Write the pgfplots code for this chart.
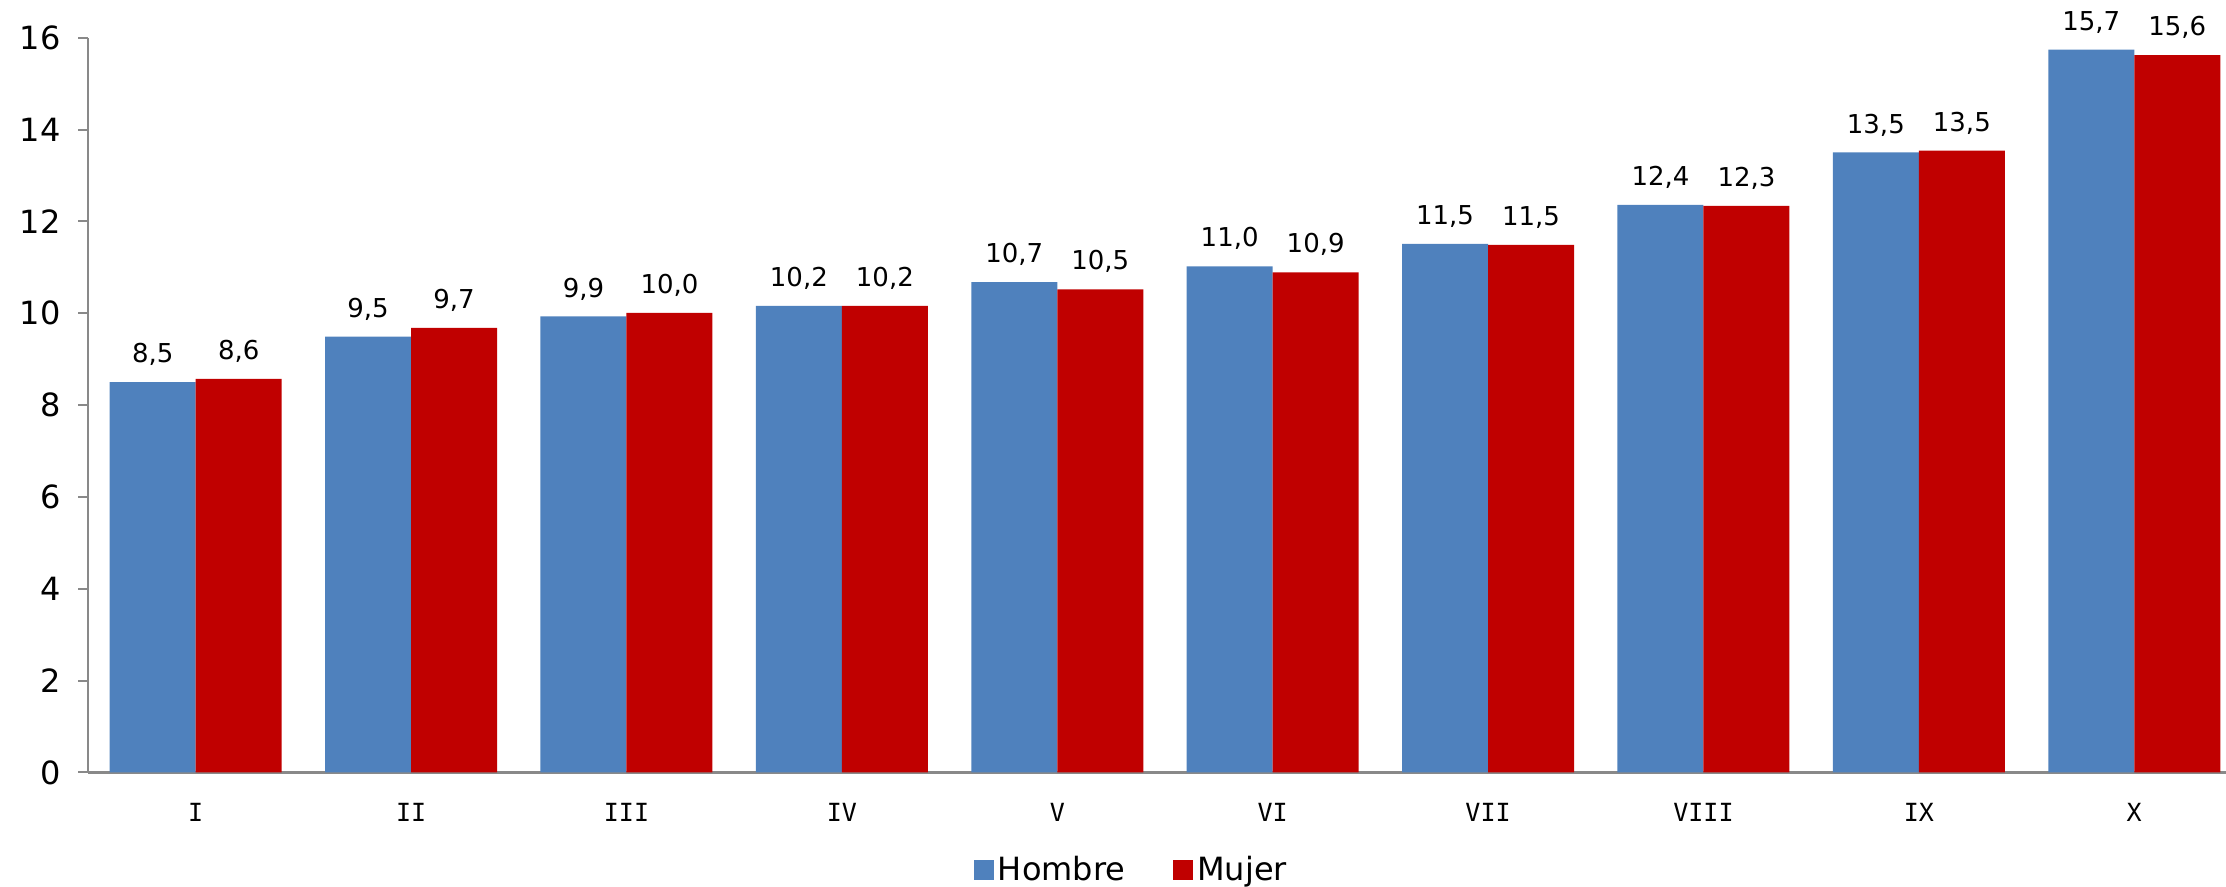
\documentclass[border=0pt]{standalone}
\usepackage{pgfplots}
\pgfplotsset{compat=1.18}
\usepackage{pgfplotstable}
\usepackage{fontspec}
\setmainfont{DejaVu Sans}
\newfontfamily\monofont{DejaVu Sans Mono}
\definecolor{hblue}{HTML}{4F81BD}
\definecolor{mred}{HTML}{C00000}
\definecolor{axgray}{HTML}{898989}
\pgfplotstableread{
x h hl m ml
0 8.50 8,5 8.57 8,6
1 9.49 9,5 9.68 9,7
2 9.93 9,9 10.01 10,0
3 10.16 10,2 10.16 10,2
4 10.68 10,7 10.52 10,5
5 11.02 11,0 10.89 10,9
6 11.51 11,5 11.49 11,5
7 12.36 12,4 12.34 12,3
8 13.50 13,5 13.54 13,5
9 15.74 15,7 15.62 15,6
}\datatable
\begin{document}
\begin{tikzpicture}
\begin{axis}[
  scale only axis,
  width=1069pt, height=367.4pt,
  at={(0,0)}, anchor=south west,
  xmin=-0.5, xmax=9.426,
  ymin=0, ymax=16,
  ytick={0,2,...,16},
  xtick={0,...,9},
  xticklabels={I,II,III,IV,V,VI,VII,VIII,IX,X},
  /pgf/number format/assume math mode=true,
  axis x line*=bottom,
  axis y line*=left,
  x axis line style={draw=axgray, line width=1.5pt, -},
  y axis line style={draw=axgray, line width=1pt, -},
  major x tick style={draw=none},
  major y tick style={draw=axgray, line width=1pt},
  tick align=outside,
  major tick length=5pt,
  yticklabel style={font=\fontsize{16}{19}\selectfont, anchor=east, inner sep=0pt, xshift=-8.5pt},
  xticklabel style={font=\monofont\fontsize{12.5}{15}\selectfont, anchor=north, inner sep=0pt, yshift=-10.25pt},
  clip=false,
  legend style={at={(0.4885,-0.1327)}, anchor=center, legend columns=2, draw=none,
    font=\fontsize{16}{19}\selectfont,
    /tikz/every even column/.append style={column sep=22pt}},
  legend image code/.code={\fill[#1] (0pt,-5pt) rectangle (10pt,5pt);},
  nodes near coords,
  point meta=explicit symbolic,
  nodes near coords style={anchor=base, yshift=9.7pt, font=\fontsize{13}{15}\selectfont, text=black},
]
\addplot[ybar, bar width=43pt, bar shift=-21.5pt, fill=hblue, draw=none,
  every node near coord/.append style={xshift=-21.5pt}]
  table[x=x, y=h, meta=hl] {\datatable};
\addlegendentry{Hombre}
\addplot[ybar, bar width=43pt, bar shift=21.5pt, fill=mred, draw=none,
  every node near coord/.append style={xshift=21.5pt}]
  table[x=x, y=m, meta=ml] {\datatable};
\addlegendentry{Mujer}
\end{axis}
\pgfresetboundingbox
\path (-44pt,-57.25pt) rectangle (1069pt,386.25pt);
\end{tikzpicture}
\end{document}
